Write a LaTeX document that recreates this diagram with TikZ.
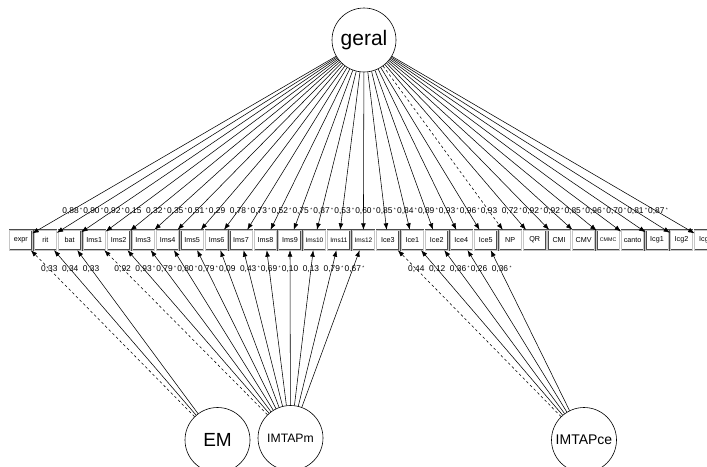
\documentclass[tikz,border=0pt]{standalone}
\usepackage{fontspec}
\setmainfont{Liberation Sans}
\usetikzlibrary{arrows.meta,calc}
\newcommand\sigstar{\rlap{\,\raisebox{0.45ex}{\fontsize{5}{5}\selectfont *}}}
\begin{document}
\begin{tikzpicture}[x=1pt,y=-1pt,
  box/.style={draw=black!70, double=gray!45, double distance=0.8pt, line width=0.35pt,
    fill=white, minimum width=22.5pt, minimum height=20pt, inner sep=0pt},
  lat/.style={circle, draw=black, line width=0.6pt, fill=white, minimum size=64pt, inner sep=0pt},
  edge/.style={-{Latex[length=6.5pt,width=4.8pt]}, line width=0.55pt},
  fixed/.style={edge, dash pattern=on 2.6pt off 2.6pt},
  elab/.style={font=\fontsize{8.4}{8.4}\selectfont, inner sep=0pt}
]
\useasboundingbox (0,0) rectangle (707,466);
\clip (0,0) rectangle (707,466);

% observed variables
\foreach \n/\t/\fs [count=\i from 0] in {
  expr/expr/7.2, rit/rit/7.2, bat/bat/7.2,
  Ims1/Ims1/7.2, Ims2/Ims2/7.2, Ims3/Ims3/7.2, Ims4/Ims4/7.2, Ims5/Ims5/7.2, Ims6/Ims6/7.2,
  Ims7/Ims7/7.2, Ims8/Ims8/7.2, Ims9/Ims9/7.2, Ims10/Ims10/6.5, Ims11/Ims11/6.5, Ims12/Ims12/6.5,
  Ice3/Ice3/7.2, Ice1/Ice1/7.2, Ice2/Ice2/7.2, Ice4/Ice4/7.2, Ice5/Ice5/7.2,
  NP/NP/7.2, QR/QR/7.2, CMI/CMI/7.2, CMV/CMV/7.2, CMMC/CMMC/5.3, canto/canto/7.2,
  lcg1/Icg1/7.2, lcg2/Icg2/7.2, lcg3/Icg3/7.2}
{
  \node[box, font=\fontsize{\fs}{\fs}\selectfont] (\n) at ({20.8+24.47*\i},240) {\t};
}

% latent variables
\node[lat, font=\fontsize{21}{21}\selectfont] (geral) at (364,40) {geral};
\node[lat, minimum size=65pt, font=\fontsize{19}{19}\selectfont] (EM) at (217.5,440) {EM};
\node[lat, minimum size=65pt, font=\fontsize{12.2}{12.2}\selectfont] (IMTAPm) at (290.5,438) {IMTAPm};
\node[lat, minimum size=65pt, font=\fontsize{14}{14}\selectfont] (IMTAPce) at (584,440) {IMTAPce};

% geral loadings
\foreach \b/\v in {
  expr/0{,}88\sigstar, rit/0{,}90\sigstar, bat/0{,}92\sigstar, Ims1/0{,}15,
  Ims2/0{,}32\sigstar, Ims3/0{,}35\sigstar, Ims4/0{,}51\sigstar, Ims5/0{,}29,
  Ims6/0{,}78\sigstar, Ims7/0{,}73\sigstar, Ims8/0{,}52\sigstar, Ims9/0{,}75\sigstar,
  Ims10/0{,}87\sigstar, Ims11/0{,}53\sigstar, Ims12/0{,}60\sigstar,
  Ice3/0{,}85\sigstar, Ice1/0{,}84\sigstar, Ice2/0{,}89\sigstar, Ice4/0{,}93\sigstar,
  Ice5/0{,}96\sigstar, QR/0{,}72\sigstar, CMI/0{,}92\sigstar, CMV/0{,}92\sigstar,
  CMMC/0{,}85\sigstar, canto/0{,}96\sigstar, lcg1/0{,}70\sigstar, lcg2/0{,}81\sigstar,
  lcg3/0{,}87\sigstar}
{
  \draw[edge] (geral) -- (\b);
  \node[elab] (g-\b) at ($(geral.center)!0.855!(\b.center)$) {\v};
}
\draw[fixed] (geral) -- (NP);
\node[elab] (g-NP) at ($(geral.center)!0.855!(NP.center)$) {0,93};

% EM loadings
\draw[fixed] (EM) -- (expr);
\node[elab] (em-expr) at ($(EM.center)!0.855!(expr.center)$) {0,33};
\foreach \b/\v in {rit/0{,}34, bat/0{,}33}
{
  \draw[edge] (EM) -- (\b);
  \node[elab] (em-\b) at ($(EM.center)!0.855!(\b.center)$) {\v};
}

% IMTAPm loadings
\draw[fixed] (IMTAPm) -- (Ims1);
\node[elab] (m-Ims1) at ($(IMTAPm.center)!0.855!(Ims1.center)$) {0,92};
\foreach \b/\v in {
  Ims2/0{,}93\sigstar, Ims3/0{,}79\sigstar, Ims4/0{,}80\sigstar, Ims5/0{,}79\sigstar,
  Ims6/0{,}09, Ims7/0{,}43\sigstar, Ims8/0{,}69\sigstar, Ims9/0{,}10, Ims10/0{,}13,
  Ims11/0{,}79\sigstar, Ims12/0{,}67\sigstar}
{
  \draw[edge] (IMTAPm) -- (\b);
  \node[elab] (m-\b) at ($(IMTAPm.center)!0.855!(\b.center)$) {\v};
}

% IMTAPce loadings
\draw[fixed] (IMTAPce) -- (Ice3);
\node[elab] (ce-Ice3) at ($(IMTAPce.center)!0.855!(Ice3.center)$) {0,44};
\foreach \b/\v in {Ice1/0{,}12, Ice2/0{,}36\sigstar, Ice4/0{,}26, Ice5/0{,}36\sigstar}
{
  \draw[edge] (IMTAPce) -- (\b);
  \node[elab] (ce-\b) at ($(IMTAPce.center)!0.855!(\b.center)$) {\v};
}
\end{tikzpicture}
\end{document}
